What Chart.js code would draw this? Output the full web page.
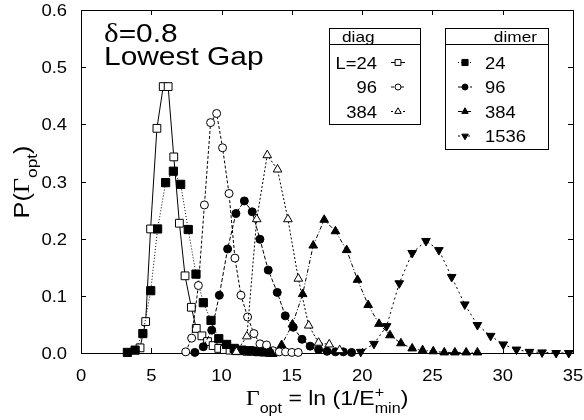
<!DOCTYPE html>
<html>
<head>
<meta charset="utf-8">
<script src="https://cdn.jsdelivr.net/npm/chart.js@4.4.1/dist/chart.umd.min.js"></script>
<style>
  html, body { margin: 0; padding: 0; background: #fff; }
  #wrap { width: 584px; height: 420px; position: relative; }
</style>
</head>
<body>
<div id="wrap"><canvas id="chart"></canvas></div>
<script>
// Gamma_opt (x) and P(Gamma_opt) (y)
const diag24G = [4.2, 4.6, 4.95, 5.4, 5.85, 6.2, 6.6, 7.0, 7.4, 7.85, 8.2, 8.6, 9.0, 9.4, 9.8, 10.2, 10.6, 11.0, 11.4, 11.8, 12.2, 12.6, 13.0, 13.4];
const diag24P = [0.009, 0.055, 0.217, 0.393, 0.466, 0.466, 0.343, 0.227, 0.135, 0.08, 0.043, 0.03, 0.02, 0.013, 0.008, 0.006, 0.005, 0.004, 0.004, 0.003, 0.003, 0.002, 0.002, 0.001];

const dimer24G = [3.3, 3.85, 4.4, 4.96, 5.45, 6.02, 6.57, 7.09, 7.63, 8.18, 8.7, 9.25, 9.8, 10.36, 10.9, 11.45, 12.0, 12.55, 13.1, 13.65];
const dimer24P = [0.001, 0.005, 0.034, 0.109, 0.217, 0.298, 0.318, 0.295, 0.216, 0.138, 0.088, 0.057, 0.025, 0.015, 0.008, 0.005, 0.004, 0.003, 0.002, 0.001];

const diag96G = [7.45, 7.87, 8.35, 8.78, 9.22, 9.65, 10.07, 10.53, 10.95, 11.38, 11.85, 12.3, 12.73, 13.2, 13.65, 14.1, 14.55, 15.0, 15.45];
const diag96P = [0.002, 0.026, 0.118, 0.259, 0.403, 0.419, 0.359, 0.279, 0.166, 0.101, 0.063, 0.034, 0.016, 0.014, 0.004, 0.002, 0.002, 0.001, 0.001];

const dimer96G = [8.1, 8.7, 9.3, 9.84, 10.43, 11.02, 11.62, 12.18, 12.73, 13.32, 13.96, 14.53, 15.1, 15.72, 16.3, 16.9, 17.5, 18.1, 18.66, 19.25];
const dimer96P = [0.001, 0.011, 0.04, 0.101, 0.182, 0.244, 0.266, 0.247, 0.199, 0.145, 0.106, 0.065, 0.045, 0.024, 0.012, 0.006, 0.003, 0.002, 0.002, 0.001];

const diag384G = [11.05, 11.8, 12.5, 13.25, 13.98, 14.72, 15.46, 16.2, 16.9, 17.66, 18.4];
const diag384P = [0.002, 0.029, 0.234, 0.346, 0.321, 0.234, 0.13, 0.048, 0.018, 0.015, 0.005];

const dimer384G = [13.5, 14.27, 15.04, 15.77, 16.52, 17.3, 18.1, 18.9, 19.67, 20.43, 21.2, 21.98, 22.76, 23.56, 24.3, 25.06, 25.84, 26.6, 27.4, 28.2];
const dimer384P = [0.002, 0.014, 0.05, 0.103, 0.188, 0.233, 0.213, 0.18, 0.128, 0.084, 0.051, 0.031, 0.017, 0.008, 0.005, 0.003, 0.001, 0.001, 0.001, 0.001];

const dimer1536G = [19.9, 20.84, 21.74, 22.64, 23.56, 24.54, 25.46, 26.37, 27.3, 28.2, 29.14, 30.04, 30.98, 31.9, 32.8, 33.8, 34.7];
const dimer1536P = [0.002, 0.016, 0.047, 0.122, 0.175, 0.196, 0.18, 0.133, 0.085, 0.049, 0.03, 0.015, 0.006, 0.002, 0.001, 0.0, 0.0];

const xTicks = [0, 5, 10, 15, 20, 25, 30, 35];
const yTicks = [0.0, 0.1, 0.2, 0.3, 0.4, 0.5, 0.6];

const diagLabels = ["L=24", "96", "384"];
const dimerLabels = ["24", "96", "384", "1536"];

const SANS = "'Liberation Sans', Arial, sans-serif";
const SERIF = "'Liberation Serif', 'Times New Roman', serif";
const SX = 1.15; // glyphs in the original are a bit wide

function pts(g, p) { return g.map((v, i) => ({ x: v, y: p[i] })); }

function series(label, g, p, style, open, dash, radius, rotation) {
  return {
    label, data: pts(g, p), showLine: true, clip: false,
    borderColor: "#000", borderWidth: 1, borderDash: dash,
    pointStyle: style, pointRadius: radius, pointRotation: rotation || 0,
    pointBackgroundColor: open ? "#fff" : "#000", pointBorderColor: "#000", pointBorderWidth: 1
  };
}

const datasets = [
  series("dimer 1536", dimer1536G, dimer1536P, "triangle", false, [2, 3], 5, 180),
  series("dimer 384", dimer384G, dimer384P, "triangle", false, [4, 2, 1, 2], 5),
  series("diag 384", diag384G, diag384P, "triangle", true, [2, 2], 5),
  series("dimer 96", dimer96G, dimer96P, "circle", false, [4, 2], 4),
  series("diag 96", diag96G, diag96P, "circle", true, [3, 2], 4),
  series("dimer 24", dimer24G, dimer24P, "rect", false, [1, 2], 5.8),
  series("diag 24", diag24G, diag24P, "rect", true, [], 5.5)
];

function textW(ctx, s, font) { ctx.font = font; return ctx.measureText(s).width * SX; }

// segs: {t, font, dy, stack} ; stack = drawn at the same x as the previous one
function drawRich(ctx, segs, x, y, align) {
  let total = 0, lastW = 0;
  segs.forEach(s => {
    const w = textW(ctx, s.t, s.font);
    if (s.stack) { total += Math.max(0, w - lastW); lastW = Math.max(w, lastW); }
    else { total += w; lastW = w; }
  });
  let cx = align === "center" ? x - total / 2 : align === "right" ? x - total : x;
  let prevX = cx, prevW = 0;
  segs.forEach(s => {
    const w = textW(ctx, s.t, s.font);
    let dx = s.stack ? prevX : cx;
    ctx.save();
    ctx.translate(dx, y + (s.dy || 0));
    ctx.scale(SX, 1);
    ctx.font = s.font; ctx.textAlign = "left"; ctx.textBaseline = "alphabetic";
    ctx.fillText(s.t, 0, 0);
    ctx.restore();
    if (s.stack) { cx = prevX + Math.max(w, prevW); prevW = Math.max(w, prevW); }
    else { prevX = cx; prevW = w; cx += w; }
  });
}

function drawText(ctx, s, x, y, font, align) { drawRich(ctx, [{ t: s, font }], x, y, align); }

// legend sample: short line + smaller marker
function sample(ctx, ds, x, y) {
  ctx.save();
  ctx.strokeStyle = "#000"; ctx.lineWidth = 1; ctx.setLineDash(ds.borderDash);
  ctx.beginPath(); ctx.moveTo(x - 7, y); ctx.lineTo(x + 7, y); ctx.stroke();
  ctx.setLineDash([]);
  ctx.fillStyle = ds.pointBackgroundColor; ctx.strokeStyle = "#000";
  Chart.helpers.drawPoint(ctx, { pointStyle: ds.pointStyle, radius: ds.pointRadius * 0.75, rotation: ds.pointRotation, borderWidth: 1 }, x, y);
  ctx.restore();
}

const framePlugin = {
  id: "frame",
  beforeDatasetsDraw(chart) {
    const { ctx, chartArea: a, scales: { x, y } } = chart;
    ctx.save();
    ctx.strokeStyle = "#000"; ctx.lineWidth = 1;
    ctx.strokeRect(a.left + 0.5, a.top + 0.5, a.right - a.left, a.bottom - a.top);
    ctx.beginPath();
    xTicks.forEach(v => {
      const px = Math.round(x.getPixelForValue(v)) + 0.5;
      ctx.moveTo(px, a.bottom); ctx.lineTo(px, a.bottom - 5);
      ctx.moveTo(px, a.top); ctx.lineTo(px, a.top + 5);
    });
    yTicks.forEach(v => {
      const py = Math.round(y.getPixelForValue(v)) + 0.5;
      ctx.moveTo(a.left, py); ctx.lineTo(a.left + 5, py);
      ctx.moveTo(a.right, py); ctx.lineTo(a.right - 5, py);
    });
    ctx.stroke();
    ctx.restore();
  },
  afterDraw(chart) {
    const { ctx, chartArea: a, scales: { x, y } } = chart;
    ctx.save();
    ctx.fillStyle = "#000";
    const tf = "16px " + SANS;
    xTicks.forEach(v => drawText(ctx, String(v), x.getPixelForValue(v), 381, tf, "center"));
    yTicks.forEach(v => drawText(ctx, v.toFixed(1), 67, y.getPixelForValue(v) + 6, tf, "right"));

    // axis titles
    const big = "20px " + SANS, small = "14px " + SANS;
    drawRich(ctx, [
      { t: "\u0393", font: "21px " + SERIF },
      { t: "opt", font: small, dy: 8 },
      { t: " = ln (1/E", font: big },
      { t: "+", font: small, dy: -8 },
      { t: "min", font: small, dy: 8, stack: true },
      { t: ")", font: big }
    ], (a.left + a.right) / 2, 405, "center");

    ctx.save();
    ctx.translate(29, 182);
    ctx.rotate(-Math.PI / 2);
    drawRich(ctx, [
      { t: "P(", font: "22px " + SANS },
      { t: "\u0393", font: "23px " + SERIF },
      { t: "opt", font: "15px " + SANS, dy: 8 },
      { t: ")", font: "22px " + SANS }
    ], 0, 0, "center");
    ctx.restore();

    // annotation
    drawRich(ctx, [{ t: "\u03b4", font: "27px " + SERIF }, { t: "=0.8", font: "26px " + SANS }], 104, 42, "left");
    drawText(ctx, "Lowest Gap", 104, 65, "26px " + SANS, "left");

    // legend boxes
    const lf = "16px " + SANS, rowY = [68.5, 93, 117.5, 142];
    ctx.strokeStyle = "#000"; ctx.lineWidth = 1;
    ctx.strokeRect(329.5, 28.5, 91, 96);
    ctx.beginPath(); ctx.moveTo(329.5, 44.5); ctx.lineTo(420.5, 44.5); ctx.stroke();
    drawText(ctx, "diag", 342, 42, "15px " + SANS, "left");
    const diagSets = [datasets[6], datasets[4], datasets[2]];
    diagLabels.forEach((l, i) => {
      drawText(ctx, l, 377, rowY[i], lf, "right");
      sample(ctx, diagSets[i], 398, rowY[i] - 6);
    });

    ctx.strokeRect(445.5, 28.5, 103, 121);
    ctx.beginPath(); ctx.moveTo(445.5, 44.5); ctx.lineTo(548.5, 44.5); ctx.stroke();
    drawText(ctx, "dimer", 537, 42, "15px " + SANS, "right");
    const dimerSets = [datasets[5], datasets[3], datasets[1], datasets[0]];
    dimerLabels.forEach((l, i) => {
      drawText(ctx, l, 485, rowY[i], lf, "left");
      sample(ctx, dimerSets[i], 465, rowY[i] - 6);
    });
    ctx.restore();
  }
};

new Chart(document.getElementById("chart"), {
  type: "scatter",
  data: { datasets },
  options: {
    responsive: true, maintainAspectRatio: false, animation: false,
    layout: { padding: { left: 81, right: 11, top: 10, bottom: 67 } },
    plugins: { legend: { display: false }, tooltip: { enabled: false } },
    scales: {
      x: { type: "linear", min: 0, max: 35, display: false },
      y: { type: "linear", min: 0, max: 0.6, display: false }
    }
  },
  plugins: [framePlugin]
});
</script>
</body>
</html>
